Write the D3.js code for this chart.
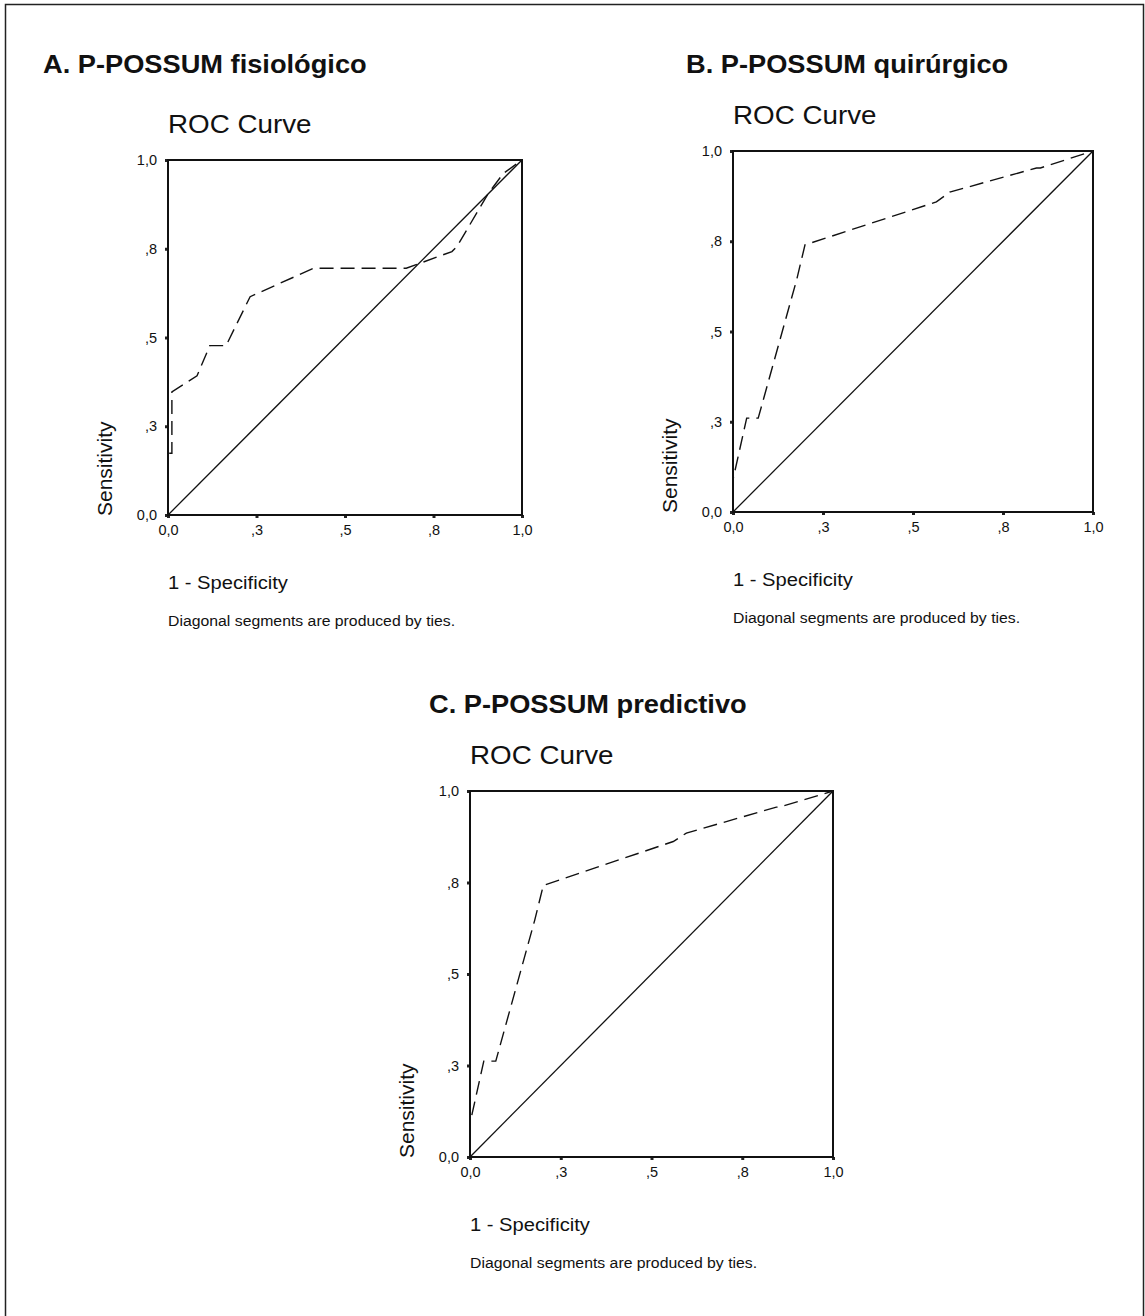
<!DOCTYPE html>
<html>
<head>
<meta charset="utf-8">
<script src="https://cdn.jsdelivr.net/npm/d3@7"></script>
<style>
  body { margin: 0; background: #fff; }
  svg { display: block; font-family: "Liberation Sans", Arial, sans-serif; }
</style>
</head>
<body>
<svg width="1145" height="1316"></svg>
<script>
// ---- data ----
var panelTitles = ["A. P-POSSUM fisiológico", "B. P-POSSUM quirúrgico", "C. P-POSSUM predictivo"];
var tickValues = [0, 0.25, 0.5, 0.75, 1];
var tickLabels = ["0,0", ",3", ",5", ",8", "1,0"];

var fprA = [0, 0, 0.011, 0.011, 0.082, 0.118, 0.164, 0.232, 0.411, 0.673, 0.802, 0.816, 0.905, 0.947, 1];
var tprA = [0, 0.174, 0.174, 0.347, 0.392, 0.477, 0.477, 0.615, 0.695, 0.695, 0.742, 0.756, 0.906, 0.962, 1];

var fprB = [0, 0, 0.038, 0.070, 0.177, 0.200, 0.565, 0.602, 0.843, 0.854, 1];
var tprB = [0, 0.090, 0.260, 0.260, 0.644, 0.740, 0.859, 0.886, 0.953, 0.953, 1];

var fprC = [0, 0, 0.038, 0.071, 0.178, 0.202, 0.560, 0.596, 0.844, 0.853, 1];
var tprC = [0, 0.092, 0.262, 0.262, 0.646, 0.742, 0.862, 0.885, 0.956, 0.956, 1];

function main() {
    var svg = d3.select("svg");
    var SX = 1.09; // the source scan is a bit stretched horizontally

    // outer frame of the figure
    svg.append("rect")
        .attr("x", 5.5).attr("y", 4.5)
        .attr("width", 1138).attr("height", 1330)
        .attr("fill", "none").attr("stroke", "#222").attr("stroke-width", 1.5);

    function text(g, x, y, s, size, weight) {
        return g.append("text")
            .attr("transform", `translate(${x},${y}) scale(${SX},1)`)
            .attr("font-size", size)
            .attr("font-weight", weight || "normal")
            .attr("fill", "#111")
            .text(s);
    }

    var panels = [
        {x0: 168, x1: 522, y0: 160, y1: 515, tx: 43, ty: 73, fpr: fprA, tpr: tprA},
        {x0: 733, x1: 1093, y0: 151, y1: 512, tx: 686, ty: 73, fpr: fprB, tpr: tprB},
        {x0: 470, x1: 833, y0: 791, y1: 1157, tx: 429, ty: 713, fpr: fprC, tpr: tprC}
    ];

    panels.forEach(function(p, i) {
        var g = svg.append("g");

        var x = d3.scaleLinear().domain([0, 1]).range([p.x0, p.x1]);
        var y = d3.scaleLinear().domain([0, 1]).range([p.y1, p.y0]);

        text(g, p.tx, p.ty, panelTitles[i], 25, "bold");
        text(g, p.x0, p.y0 - 27, "ROC Curve", 25.5);

        // axes: only the square tick marks and labels, frame drawn below
        var fmt = function(d) { return tickLabels[tickValues.indexOf(d)]; };
        var ax = g.append("g")
            .attr("transform", `translate(0,${p.y1})`)
            .call(d3.axisBottom(x).tickValues(tickValues).tickFormat(fmt).tickSize(3).tickPadding(7));
        var ay = g.append("g")
            .attr("transform", `translate(${p.x0},0)`)
            .call(d3.axisLeft(y).tickValues(tickValues).tickFormat(fmt).tickSize(3).tickPadding(8));
        [ax, ay].forEach(function(a) {
            a.select(".domain").remove();
            a.selectAll("line").attr("stroke", "#222").attr("stroke-width", 3);
            a.selectAll("text")
              .attr("font-size", 14.5)
              .attr("fill", "#111")
              .attr("font-family", "Liberation Sans, Arial, sans-serif");
        });

        // chance diagonal
        g.append("line")
            .attr("x1", x(0)).attr("y1", y(0))
            .attr("x2", x(1)).attr("y2", y(1))
            .attr("stroke", "#111").attr("stroke-width", 1.3);

        // ROC curve, dashed
        var pts = p.fpr.map(function(f, k) { return [f, p.tpr[k]]; });
        g.append("path")
            .datum(pts)
            .attr("d", d3.line().x(d => x(d[0])).y(d => y(d[1])))
            .attr("fill", "none")
            .attr("stroke", "#111")
            .attr("stroke-width", 1.4)
            .attr("stroke-dasharray", "14,7");

        // plot frame
        g.append("rect")
            .attr("x", p.x0).attr("y", p.y0)
            .attr("width", p.x1 - p.x0).attr("height", p.y1 - p.y0)
            .attr("fill", "none").attr("stroke", "#111").attr("stroke-width", 2);

        // y title, reads upward from the bottom of the frame
        g.append("text")
            .attr("transform", `translate(${p.x0 - 56},${p.y1 + 1}) rotate(-90)`)
            .attr("font-size", 21)
            .attr("fill", "#111")
            .text("Sensitivity");

        text(g, p.x0, p.y1 + 74, "1 - Specificity", 18.5);
        text(g, p.x0, p.y1 + 111, "Diagonal segments are produced by ties.", 14.5);
    });
}
main();
</script>
</body>
</html>
